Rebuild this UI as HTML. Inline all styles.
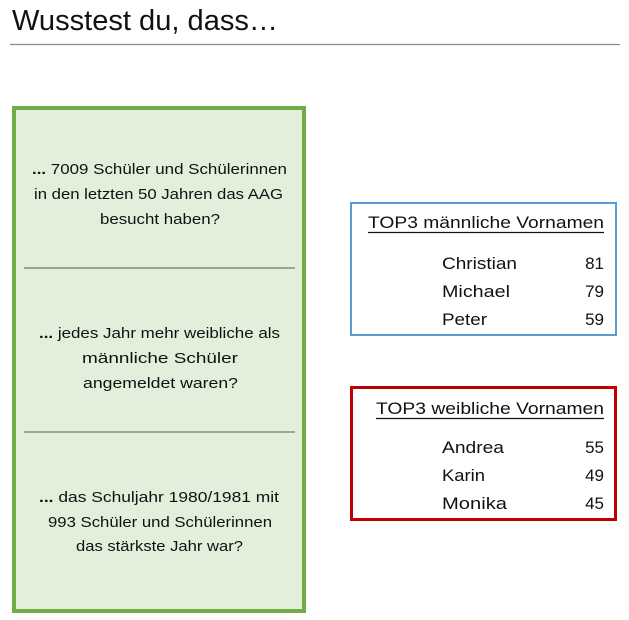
<!DOCTYPE html>
<html>
<head>
<meta charset="utf-8">
<style>
html,body{margin:0;padding:0;background:#fff;}
svg{display:block;}
text{font-family:"Liberation Sans",sans-serif;fill:#111;}
</style>
</head>
<body>
<svg width="629" height="620" viewBox="0 0 629 620" xmlns="http://www.w3.org/2000/svg">
  <!-- Title -->
  <text x="12" y="30" font-size="29" textLength="266" lengthAdjust="spacingAndGlyphs">Wusstest du, dass…</text>
  <line x1="10" y1="44.5" x2="620" y2="44.5" stroke="#8c8c8c" stroke-width="1.2"/>

  <!-- Green box -->
  <rect x="14" y="108" width="290" height="503" fill="#e2efda" stroke="#70ad47" stroke-width="4"/>
  <line x1="24" y1="268" x2="295" y2="268" stroke="#7f8f74" stroke-width="1.5"/>
  <line x1="24" y1="432" x2="295" y2="432" stroke="#7f8f74" stroke-width="1.5"/>

  <g font-size="15">
    <text x="32" y="174" textLength="255" lengthAdjust="spacingAndGlyphs"><tspan font-weight="bold">...</tspan> 7009 Schüler und Schülerinnen</text>
    <text x="34" y="199" textLength="249" lengthAdjust="spacingAndGlyphs">in den letzten 50 Jahren das AAG</text>
    <text x="100" y="224" textLength="120" lengthAdjust="spacingAndGlyphs">besucht haben?</text>

    <text x="39" y="338" textLength="241" lengthAdjust="spacingAndGlyphs"><tspan font-weight="bold">...</tspan> jedes Jahr mehr weibliche als</text>
    <text x="82" y="363" textLength="156" lengthAdjust="spacingAndGlyphs">männliche Schüler</text>
    <text x="83" y="388" textLength="155" lengthAdjust="spacingAndGlyphs">angemeldet waren?</text>

    <text x="39" y="502" textLength="240" lengthAdjust="spacingAndGlyphs"><tspan font-weight="bold">...</tspan> das Schuljahr 1980/1981 mit</text>
    <text x="48" y="527" textLength="224" lengthAdjust="spacingAndGlyphs">993 Schüler und Schülerinnen</text>
    <text x="76" y="551" textLength="167" lengthAdjust="spacingAndGlyphs">das stärkste Jahr war?</text>
  </g>

  <!-- Blue box -->
  <rect x="351" y="203" width="265" height="132" fill="#fff" stroke="#5b9bd5" stroke-width="2"/>
  <g font-size="17">
    <text x="368" y="228" textLength="236" lengthAdjust="spacingAndGlyphs">TOP3 männliche Vornamen</text>
    <line x1="368" y1="232.5" x2="604" y2="232.5" stroke="#111" stroke-width="1.3"/>
    <text x="442" y="269" textLength="75" lengthAdjust="spacingAndGlyphs">Christian</text>
    <text x="604" y="269" text-anchor="end">81</text>
    <text x="442" y="297" textLength="68" lengthAdjust="spacingAndGlyphs">Michael</text>
    <text x="604" y="297" text-anchor="end">79</text>
    <text x="442" y="325" textLength="45" lengthAdjust="spacingAndGlyphs">Peter</text>
    <text x="604" y="325" text-anchor="end">59</text>
  </g>

  <!-- Red box -->
  <rect x="351.5" y="387.5" width="264" height="132" fill="#fff" stroke="#c00000" stroke-width="3"/>
  <g font-size="17">
    <text x="376" y="414" textLength="228" lengthAdjust="spacingAndGlyphs">TOP3 weibliche Vornamen</text>
    <line x1="376" y1="418.5" x2="604" y2="418.5" stroke="#111" stroke-width="1.3"/>
    <text x="442" y="453" textLength="62" lengthAdjust="spacingAndGlyphs">Andrea</text>
    <text x="604" y="453" text-anchor="end">55</text>
    <text x="442" y="481" textLength="43" lengthAdjust="spacingAndGlyphs">Karin</text>
    <text x="604" y="481" text-anchor="end">49</text>
    <text x="442" y="509" textLength="65" lengthAdjust="spacingAndGlyphs">Monika</text>
    <text x="604" y="509" text-anchor="end">45</text>
  </g>
</svg>
</body>
</html>
